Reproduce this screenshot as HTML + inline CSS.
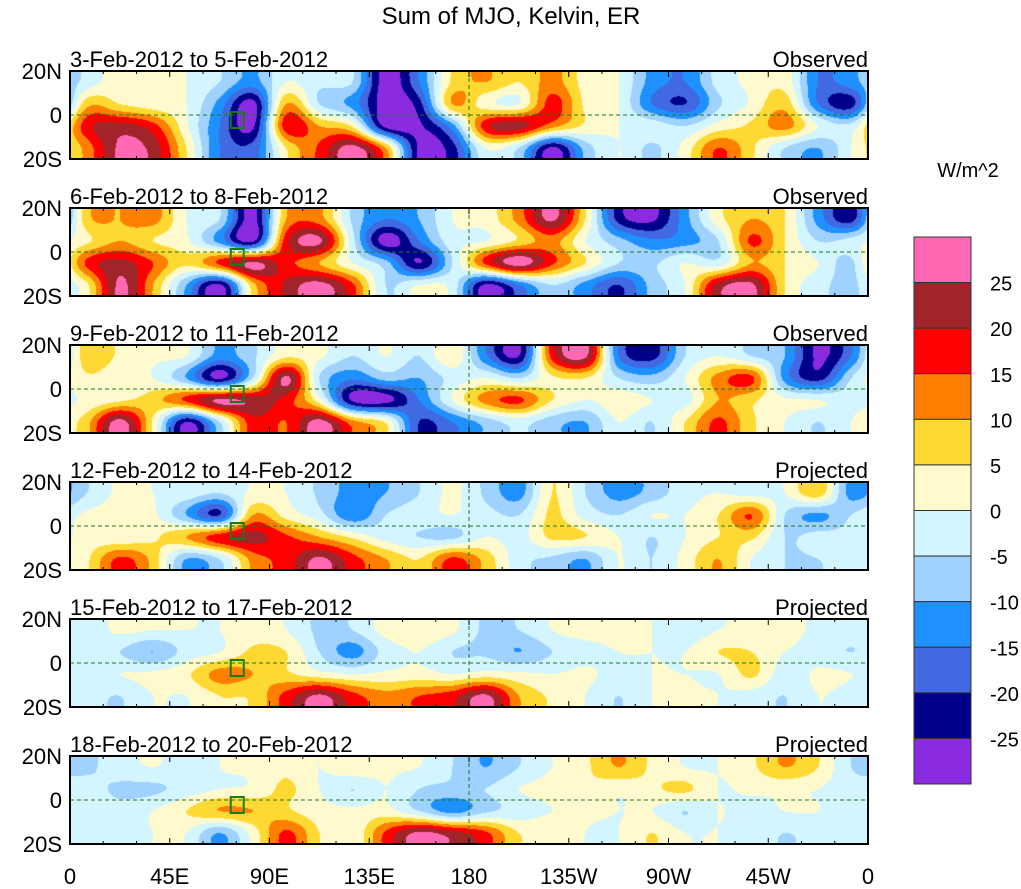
<!DOCTYPE html>
<html><head><meta charset="utf-8">
<style>
html,body{margin:0;padding:0;background:#fff;}
body{width:1021px;height:889px;position:relative;overflow:hidden;font-family:"Liberation Sans",sans-serif;}
svg{position:absolute;left:0;top:0;}
canvas{position:absolute;}
</style></head>
<body>
<svg id="chart" width="1021" height="889"></svg>
<script>
// ---- data ----
const lonTicks = ["0","45E","90E","135E","180","135W","90W","45W","0"];
const latTicks = ["20N","0","20S"];
const panelTitles = ["3-Feb-2012 to 5-Feb-2012","6-Feb-2012 to 8-Feb-2012","9-Feb-2012 to 11-Feb-2012","12-Feb-2012 to 14-Feb-2012","15-Feb-2012 to 17-Feb-2012","18-Feb-2012 to 20-Feb-2012"];
const panelKinds = ["Observed","Observed","Observed","Projected","Projected","Projected"];
const levels = [-25,-20,-15,-10,-5,0,5,10,15,20,25];
const levelColors = ["#8a2be2","#00008b","#4169e1","#1e90ff","#a0d2ff","#d2f5ff","#fffacd","#ffd933","#ff7f00","#ff0000","#a0242a","#ff69b4"];
const cbLabels = ["25","20","15","10","5","0","-5","-10","-15","-20","-25"];
// grid: rows 15N,5N,5S,15S ; cols centred every 15 deg from 7.5E
const p1 = [
 [-3,3,2,0,-5,-12,0,-4,-5,-28,-15,6,10,5,12,3,0,-12,-15,-3,1,3,-15,-12],
 [8,5,2,0,-12,-27,10,-5,-12,-28,-22,10,2,0,17,4,0,-15,-20,-6,1,8,-15,-22],
 [18,22,17,1,-15,-26,18,10,4,-27,-26,-12,18,22,12,4,0,-2,-5,2,6,12,0,-3],
 [12,26,23,5,-15,-18,5,16,27,10,-26,-22,0,-5,-26,-8,0,-6,2,15,6,-5,-10,0]];
const p2 = [
 [8,10,12,0,-5,-27,10,12,-6,-15,-10,0,2,12,26,5,-22,-26,-12,3,10,5,-12,-22],
 [4,10,5,1,-12,-26,18,26,-3,-28,-15,-2,0,6,12,0,-8,-14,-12,-5,16,5,-5,-3],
 [16,22,15,6,16,26,17,10,0,-8,-25,-5,16,28,16,5,-5,-6,0,-3,10,5,0,-6],
 [4,26,10,-10,-26,8,21,27,16,-5,0,-2,-26,-15,-5,-12,-20,-8,0,22,26,5,-3,-6]];
const p3 = [
 [8,4,1,0,-12,-6,4,1,-5,0,-5,4,-14,-25,17,26,-15,-22,-5,0,-5,-10,-26,-15],
 [4,1,0,-10,-26,-5,26,-5,-14,-8,-10,-3,0,-5,4,5,-5,-8,0,12,16,-12,-22,-5],
 [1,4,8,16,26,23,18,2,-26,-27,-15,0,12,16,5,0,3,0,-2,10,6,1,0,-2],
 [8,27,4,-25,-5,18,15,27,12,4,-20,-15,-8,-3,-8,-10,0,-5,5,16,6,0,-5,0]];
const p4 = [
 [-5,1,0,-2,-5,1,0,-6,-12,-10,-5,1,-6,-12,5,-5,-12,-8,-2,0,-2,0,8,-12],
 [1,2,1,-10,-20,10,3,-3,-14,-5,-2,0,-3,-5,6,-2,-5,0,0,5,15,-5,-11,-5],
 [2,1,4,10,18,22,16,10,4,-2,-5,-6,0,-2,6,5,0,-5,0,5,6,-5,-3,-3],
 [4,16,8,-10,-5,12,17,26,17,10,5,16,8,-3,-6,-10,0,-5,2,10,0,-5,-5,-3]];
const p5 = [
 [-3,1,0,0,0,3,0,-6,-5,2,4,1,-6,-5,0,2,1,0,-3,0,1,3,-2,-3],
 [-3,-5,-10,-3,0,6,5,-5,-12,-3,0,-5,-6,-10,-5,-2,0,0,0,5,5,0,-3,-5],
 [-2,0,1,4,12,10,6,2,0,1,2,0,2,1,0,1,-2,0,0,0,6,-3,1,0],
 [-3,-5,0,0,5,6,17,26,17,12,15,18,26,10,4,0,-5,0,1,0,-2,-5,0,-2]];
const p6 = [
 [-6,-2,0,-2,0,1,4,0,4,1,0,-5,-10,-5,0,4,10,4,0,0,4,10,5,-5],
 [-3,-6,-6,-3,0,1,6,0,-5,0,-5,-6,-5,0,2,4,1,4,6,0,1,1,0,-3],
 [-2,-3,0,5,10,10,6,2,1,2,-5,-12,-6,-3,0,1,0,0,-5,0,-2,0,0,-3],
 [-3,-2,0,0,-10,2,16,5,1,16,26,22,16,5,4,0,0,5,0,0,-2,-5,-3,-3]];
const panelData = [p1,p2,p3,p4,p5,p6];

// ---- layout ----
const X0=70, X1=868, PH=88;
const panelTops=[71,208,345,482,619,756];
const svg=document.getElementById('chart');
const NS='http://www.w3.org/2000/svg';
function mk(tag,attrs,parent){const e=document.createElementNS(NS,tag);for(const k in attrs)e.setAttribute(k,attrs[k]);(parent||svg).appendChild(e);return e;}
function txt(x,y,s,size,anchor,parent){const t=mk('text',{x:x,y:y,'font-size':size,'text-anchor':anchor||'start','font-family':'Liberation Sans, sans-serif',fill:'#000'},parent);t.textContent=s;return t;}
const xScale=lon=>X0+(X1-X0)*lon/360;
function colorFor(v){let i=0;while(i<levels.length&&v>=levels[i])i++;return levelColors[i];}
function hex(c){return [parseInt(c.slice(1,3),16),parseInt(c.slice(3,5),16),parseInt(c.slice(5,7),16)];}
function cr(p0,p1,p2,p3,t){return 0.5*((2*p1)+(-p0+p2)*t+(2*p0-5*p1+4*p2-p3)*t*t+(-p0+3*p1-3*p2+p3)*t*t*t);}

const title=txt(511,24,"Sum of MJO, Kelvin, ER",24,'middle');



panelData.forEach((grid,p)=>{
  const top=panelTops[p];
  const W=X1-X0, H=PH;
  const cv=document.createElement('canvas');
  cv.width=W;cv.height=H;cv.style.left=X0+'px';cv.style.top=top+'px';
  
  
  document.body.insertBefore(cv,svg);
  const ctx=cv.getContext('2d');
  const img=ctx.createImageData(W,H);
  const nc=grid[0].length, nr=grid.length;
  const rowAt=r=>grid[Math.max(0,Math.min(nr-1,r))];
  for(let y=0;y<H;y++){
    const lat=20-40*(y+0.5)/H;
    let fr=(15-lat)/10;
    let r1=Math.floor(fr), tr=fr-r1;
    for(let x=0;x<W;x++){
      const lon=360*(x+0.5)/W;
      const fc=(lon-7.5)/15;
      const c1=Math.floor(fc), tc=fc-c1;
      const idx=k=>((k%nc)+nc)%nc;
      const rv=[];
      for(let dr=-1;dr<=2;dr++){
        const row=rowAt(r1+dr);
        rv.push(cr(row[idx(c1-1)],row[idx(c1)],row[idx(c1+1)],row[idx(c1+2)],tc));
      }
      const v=cr(rv[0],rv[1],rv[2],rv[3],tr);
      const rgb=hex(colorFor(v));
      const k=(y*W+x)*4;
      img.data[k]=rgb[0];img.data[k+1]=rgb[1];img.data[k+2]=rgb[2];img.data[k+3]=255;
    }
  }
  ctx.putImageData(img,0,0);

  const g=mk('g',{});
  
  
  const eq=mk('line',{x1:X0,x2:X1,y1:top+H/2,y2:top+H/2,stroke:'#1a7a1a','stroke-width':1,'stroke-dasharray':'4,3'},g);
  
  
  const dl=mk('line',{x1:xScale(180),x2:xScale(180),y1:top,y2:top+H,stroke:'#1a7a1a','stroke-width':1,'stroke-dasharray':'4,3'},g);
  
  
  const bx=mk('rect',{x:xScale(72.5),y:top+H/2-3,width:13,height:16,fill:'none',stroke:'#1a7a1a','stroke-width':2},g);
  
  
  const fr=mk('rect',{x:X0,y:top,width:W,height:H,fill:'none',stroke:'#000','stroke-width':2},g);
  
  
  const t1=txt(X0,top-4,panelTitles[p],22,'start',g);
  
  
  const t2=txt(X1,top-4,panelKinds[p],22,'end',g);
  
  
  latTicks.forEach((s,i)=>{
    const y=top+H*i/2;
    const tl=txt(62,y+8,s,22,'end',g);
    
    
  });
  for(let i=0;i<=24;i++){
    const x=xScale(i*15), len=(i%3===0)?6:3;
    mk('line',{x1:x,x2:x,y1:top+H,y2:top+H-len,stroke:'#000','stroke-width':1},g);
    mk('line',{x1:x,x2:x,y1:top,y2:top+len,stroke:'#000','stroke-width':1},g);
  }
});
lonTicks.forEach((s,i)=>{
  const t=txt(xScale(i*45),884,s,22,'middle');
  
  
});

// colorbar
const cb=mk('g',{});


const cbTop=237, cbH=(784-237)/12;
for(let i=0;i<12;i++){
  const r=mk('rect',{x:914,y:cbTop+i*cbH,width:57,height:cbH,fill:levelColors[11-i],stroke:'#333','stroke-width':1},cb);
  
  
}
cbLabels.forEach((s,i)=>{
  const t=txt(990,cbTop+(i+1)*cbH+8,s,20,'start',cb);
  
  
});
const u=txt(968,177,"W/m^2",20,'middle',cb);


</script>
</body></html>
